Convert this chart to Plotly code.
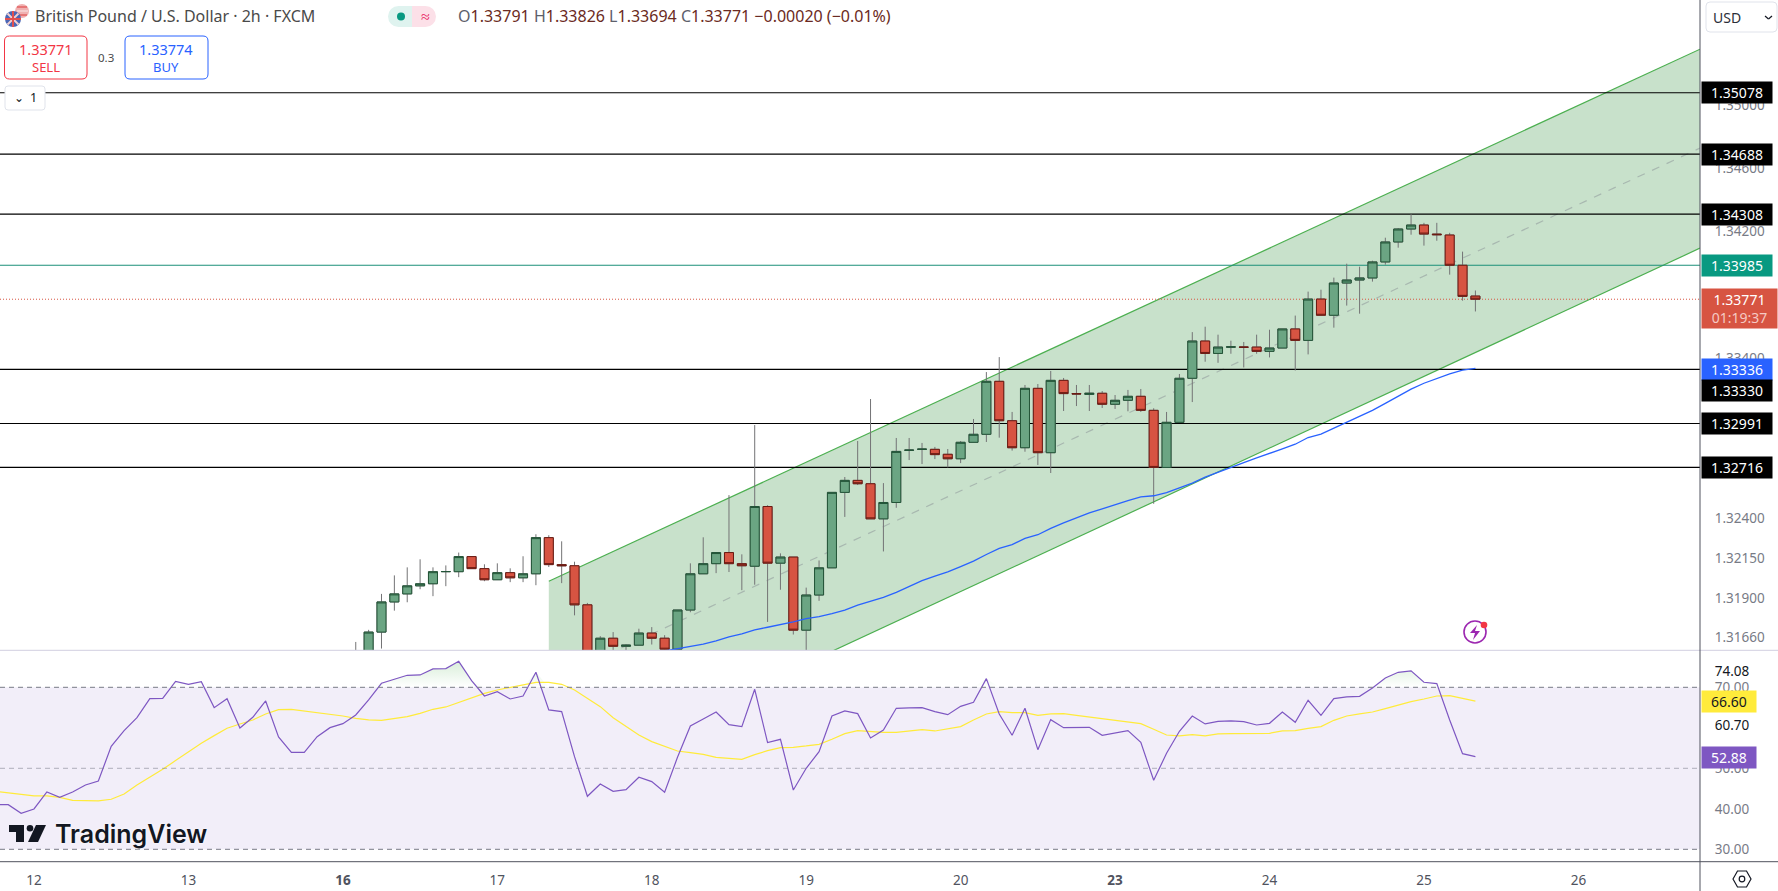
import plotly.graph_objects as go

W, H = 1778, 891
AXIS_X = 1700

# candles, 2h bars, index 0 = session open of the 12th
candle_index = list(range(25, 113))
opens = [1.31500,1.31491,1.31691,1.31878,1.31928,1.31978,1.31991,1.32066,1.32066,1.32160,
    1.32085,1.32016,1.32060,1.32028,1.32053,1.32278,1.32110,1.32103,1.31860,1.31522,
    1.31653,1.31603,1.31610,1.31685,1.31653,1.31585,1.31828,1.32053,1.32116,1.32185,
    1.32116,1.32100,1.32472,1.32119,1.32157,1.31703,1.31921,1.32090,1.32560,1.32635,
    1.32614,1.32395,1.32497,1.32823,1.32829,1.32829,1.32798,1.32770,1.32873,1.32923,
    1.33255,1.33008,1.32839,1.33211,1.32808,1.33261,1.33178,1.33173,1.33180,1.33111,
    1.33136,1.33161,1.33073,1.32716,1.32998,1.33274,1.33508,1.33430,1.33470,1.33470,
    1.33470,1.33443,1.33464,1.33584,1.33512,1.33772,1.33670,1.33873,1.33892,1.33905,
    1.34006,1.34132,1.34214,1.34239,1.34182,1.34176,1.33985,1.33791]
closes = [1.31550,1.31691,1.31878,1.31928,1.31978,1.31991,1.32066,1.32067,1.32160,1.32085,
    1.32016,1.32060,1.32028,1.32053,1.32278,1.32110,1.32103,1.31860,1.31522,1.31653,
    1.31603,1.31610,1.31685,1.31653,1.31585,1.31828,1.32053,1.32116,1.32185,1.32116,
    1.32103,1.32472,1.32119,1.32157,1.31703,1.31921,1.32090,1.32560,1.32635,1.32614,
    1.32395,1.32497,1.32816,1.32824,1.32830,1.32796,1.32770,1.32873,1.32923,1.33255,
    1.33008,1.32839,1.33211,1.32808,1.33261,1.33178,1.33176,1.33180,1.33111,1.33136,
    1.33161,1.33073,1.32716,1.32998,1.33274,1.33508,1.33430,1.33470,1.33471,1.33469,
    1.33443,1.33464,1.33584,1.33512,1.33772,1.33670,1.33873,1.33892,1.33905,1.34006,
    1.34132,1.34214,1.34239,1.34182,1.34178,1.33985,1.33789,1.33771]
highs = [1.31630,1.31705,1.31928,1.32043,1.32093,1.32143,1.32093,1.32105,1.32185,1.32160,
    1.32112,1.32118,1.32087,1.32162,1.32299,1.32293,1.32255,1.32128,1.31872,1.31666,
    1.31691,1.31616,1.31712,1.31722,1.31672,1.31828,1.32118,1.32280,1.32185,1.32543,
    1.32174,1.32981,1.32480,1.32180,1.32157,1.31967,1.32136,1.32560,1.32656,1.32881,
    1.33144,1.32618,1.32900,1.32900,1.32869,1.32844,1.32831,1.32881,1.33019,1.33313,
    1.33407,1.33063,1.33232,1.33238,1.33320,1.33276,1.33232,1.33232,1.33194,1.33169,
    1.33201,1.33207,1.33086,1.33063,1.33301,1.33564,1.33598,1.33548,1.33510,1.33502,
    1.33548,1.33579,1.33584,1.33668,1.33819,1.33831,1.33907,1.33995,1.33976,1.34014,
    1.34159,1.34220,1.34308,1.34253,1.34253,1.34190,1.34071,1.33826]
lows = [1.31450,1.31470,1.31589,1.31824,1.31876,1.31957,1.31914,1.31976,1.32032,1.32085,
    1.32007,1.32016,1.32001,1.32001,1.31982,1.32095,1.31995,1.31795,1.31491,1.31501,
    1.31564,1.31553,1.31610,1.31614,1.31578,1.31585,1.31814,1.32053,1.32057,1.32064,
    1.31951,1.31985,1.31754,1.31954,1.31676,1.31541,1.31885,1.32090,1.32407,1.32606,
    1.32395,1.32192,1.32464,1.32762,1.32737,1.32768,1.32716,1.32743,1.32873,1.32875,
    1.32902,1.32821,1.32814,1.32731,1.32681,1.33069,1.33100,1.33069,1.33088,1.33082,
    1.33067,1.33063,1.32489,1.32716,1.32998,1.33125,1.33378,1.33371,1.33428,1.33342,
    1.33428,1.33405,1.33464,1.33323,1.33424,1.33670,1.33592,1.33731,1.33680,1.33882,
    1.33989,1.34096,1.34178,1.34109,1.34140,1.33926,1.33762,1.33694]

# moving average on price
ma_index = list(range(48, 113))
ma_values = [1.31560,1.31574,1.31587,1.31599,1.31616,1.31637,1.31662,1.31680,1.31705,1.31721,
    1.31737,1.31755,1.31774,1.31787,1.31805,1.31827,1.31858,1.31881,1.31906,1.31937,
    1.31975,1.32010,1.32038,1.32065,1.32098,1.32132,1.32173,1.32211,1.32234,1.32273,
    1.32296,1.32336,1.32370,1.32401,1.32432,1.32457,1.32484,1.32509,1.32532,1.32539,
    1.32558,1.32587,1.32618,1.32655,1.32687,1.32716,1.32746,1.32775,1.32802,1.32832,
    1.32861,1.32903,1.32924,1.32962,1.33000,1.33033,1.33073,1.33117,1.33164,1.33206,
    1.33243,1.33275,1.33302,1.33325,1.33336]

# levels and channel
black_levels = [1.35078, 1.34688, 1.34308, 1.33330, 1.32991, 1.32716]
green_level = 1.33985
last_price = 1.33771
channel_x = [40, 129.45]
channel_upper = [1.32007, 1.35355]
channel_mid = [1.31384, 1.34726]
channel_lower = [1.30760, 1.34093]

# RSI pane
rsi_index = list(range(-3, 113))
rsi_values = [41.03,41.03,38.89,39.96,44.16,42.84,44.16,45.89,46.88,55.43,
    59.30,62.51,67.20,67.29,71.48,70.74,71.40,64.98,67.20,59.96,
    62.60,66.63,57.74,53.95,53.95,57.82,60.04,61.03,63.17,66.88,
    70.99,71.98,72.97,73.05,74.53,74.61,76.42,71.65,67.86,68.93,
    67.12,67.86,73.71,64.41,63.99,52.88,43.09,46.13,44.32,44.74,
    47.78,46.71,44.08,52.72,60.46,62.18,63.91,60.78,60.29,69.51,
    56.34,57.16,44.65,50.00,54.12,62.92,64.16,63.50,57.49,59.47,
    64.82,64.90,64.98,63.99,63.25,65.31,66.30,72.14,63.42,58.15,
    64.82,54.61,62.02,60.04,60.04,60.13,58.15,58.64,59.30,56.42,
    47.04,53.71,59.14,62.92,60.95,61.61,61.69,61.53,60.70,61.11,
    63.91,61.36,66.79,63.09,67.20,67.62,67.78,69.84,72.31,73.71,
    74.08,71.24,70.91,61.94,53.62,52.88]
rsi_ma_values = [44.32,43.99,43.58,43.17,43.17,42.84,42.10,41.94,41.94,42.35,
    43.67,45.89,47.78,49.76,51.90,54.12,56.18,58.07,59.88,60.95,
    61.94,63.42,64.49,64.57,64.16,63.83,63.42,62.92,62.35,61.94,
    61.85,62.27,62.76,63.58,64.57,65.15,66.22,67.29,68.52,69.34,
    69.92,70.58,71.24,71.24,70.74,69.34,67.29,65.23,62.51,60.46,
    58.23,56.59,55.35,54.28,53.87,53.46,52.72,52.39,52.22,53.38,
    54.36,55.11,55.19,55.52,55.93,57.16,58.56,59.30,59.06,58.89,
    58.89,59.22,59.55,59.22,59.71,60.29,61.94,63.42,63.99,63.75,
    63.75,63.09,63.42,63.50,63.09,62.68,62.27,61.94,61.61,61.03,
    59.63,58.23,57.99,58.32,57.99,58.48,58.56,58.56,58.64,58.64,
    59.22,59.30,59.88,60.29,61.85,62.92,63.42,63.91,64.74,65.64,
    66.46,67.12,67.86,67.95,67.20,66.60]

# axis labels
price_ticks = [1.350, 1.346, 1.342, 1.334, 1.324, 1.3215, 1.319, 1.3166]
rsi_ticks = [74.08, 70, 60.70, 50, 40, 30]
day_ticks = [0, 12, 24, 36, 48, 60, 72, 84, 96, 108, 120]
day_labels = ["12", "13", "<b>16</b>", "17", "18", "19", "20", "<b>23</b>", "24", "25", "26"]

FONT = "Noto Sans"
UP_FILL, UP_LINE = "#6ba583", "#225437"
DN_FILL, DN_LINE = "#d75442", "#6b1a12"
WICK = "#737375"
XR = [-2.642, 129.45]
PRICE_RANGE = [0.119190, 0.132480]


def px(x):
    return x / W


def py(y):
    return 1 - y / H


def box_path(x0, y0, x1, y1, r=4):
    # rounded rectangle in pixel terms, returned in paper units
    a, b = r / W, r / H
    l, t, rr, bt = px(x0), py(y0), px(x1), py(y1)
    return (f"M{l+a},{t} L{rr-a},{t} Q{rr},{t} {rr},{t-b} L{rr},{bt+b} Q{rr},{bt} {rr-a},{bt} "
            f"L{l+a},{bt} Q{l},{bt} {l},{bt+b} L{l},{t-b} Q{l},{t} {l+a},{t} Z")


def poly_path(points):
    return "M" + " L".join(f"{px(x)},{py(y)}" for x, y in points) + " Z"


def rbox(x0, y0, x1, y1, fill, line, r=4, width=1):
    return dict(type="path", path=box_path(x0, y0, x1, y1, r), xref="paper", yref="paper",
                fillcolor=fill, line=dict(color=line, width=width), layer="above")


def poly(points, fill, line="rgba(0,0,0,0)", width=0):
    return dict(type="path", path=poly_path(points), xref="paper", yref="paper",
                fillcolor=fill, line=dict(color=line, width=width), layer="above")


def circle(cx, cy, r, fill, line="rgba(0,0,0,0)", width=0):
    return dict(type="circle", xref="paper", yref="paper", x0=px(cx - r), x1=px(cx + r),
                y0=py(cy + r), y1=py(cy - r), fillcolor=fill, line=dict(color=line, width=width), layer="above")


def seg(x0, y0, x1, y1, color, width=1):
    return dict(type="line", xref="paper", yref="paper", x0=px(x0), x1=px(x1), y0=py(y0), y1=py(y1),
                line=dict(color=color, width=width), layer="above")


def label(x, y, text, size=13, color="#131722", anchor="left"):
    return dict(x=px(x), y=py(y), xref="paper", yref="paper", text=text, showarrow=False,
                xanchor=anchor, yanchor="middle", align=anchor,
                font=dict(family=FONT, size=size, color=color))


def badge(y, text, bg, fg="white", w=70, h=21, x0=1701, size=14):
    return dict(x=px(x0), y=py(y), xref="paper", yref="paper", text=text, showarrow=False,
                xanchor="left", yanchor="middle", align="center", width=w, height=h,
                bgcolor=bg, borderpad=0, font=dict(family=FONT, size=size, color=fg))


fig = go.Figure()

# channel
fig.add_trace(go.Scatter(x=channel_x, y=channel_lower, mode="lines", line=dict(color="#4caf50", width=1.2)))
fig.add_trace(go.Scatter(x=channel_x, y=channel_upper, mode="lines", line=dict(color="#4caf50", width=1.2),
                         fill="tonexty", fillcolor="rgba(67,150,75,0.29)"))
fig.add_trace(go.Scatter(x=channel_x, y=channel_mid, mode="lines",
                         line=dict(color="rgba(120,123,134,0.4)", width=1.2, dash="8px 8px")))

# horizontal levels
for lvl in black_levels:
    fig.add_trace(go.Scatter(x=XR, y=[lvl, lvl], mode="lines", line=dict(color="#000000", width=1.1)))
fig.add_trace(go.Scatter(x=XR, y=[green_level, green_level], mode="lines", line=dict(color="#1b8f79", width=1.1)))
fig.add_trace(go.Scatter(x=XR, y=[last_price, last_price], mode="lines",
                         line=dict(color="#d75442", width=1, dash="1px 2px")))

# candles sit on an overlaying axis so they stay above the channel fill
# wicks first, grey, then the bodies on top of them
fig.add_trace(go.Candlestick(x=candle_index, open=opens, high=highs, low=lows, close=closes, whiskerwidth=0, yaxis="y3",
                             increasing=dict(line=dict(color=WICK, width=1), fillcolor="rgba(0,0,0,0)"),
                             decreasing=dict(line=dict(color=WICK, width=1), fillcolor="rgba(0,0,0,0)")))
fig.add_trace(go.Candlestick(x=candle_index, open=opens, close=closes, yaxis="y3",
                             high=[max(o, c) for o, c in zip(opens, closes)],
                             low=[min(o, c) for o, c in zip(opens, closes)], whiskerwidth=0,
                             increasing=dict(line=dict(color=UP_LINE, width=1), fillcolor=UP_FILL),
                             decreasing=dict(line=dict(color=DN_LINE, width=1), fillcolor=DN_FILL)))

# moving average
fig.add_trace(go.Scatter(x=ma_index, y=ma_values, mode="lines", line=dict(color="#2962ff", width=1.3), yaxis="y3"))

# RSI
fig.add_trace(go.Scatter(x=rsi_index, y=[70] * len(rsi_index), mode="lines", line=dict(width=0), yaxis="y2"))
fig.add_trace(go.Scatter(x=rsi_index, y=[max(v, 70) for v in rsi_values], mode="lines", line=dict(width=0),
                         fill="tonexty", yaxis="y2",
                         fillgradient=dict(type="vertical", start=70, stop=76,
                                           colorscale=[[0, "rgba(76,175,80,0)"], [1, "rgba(76,175,80,0.2)"]])))
fig.add_trace(go.Scatter(x=rsi_index, y=rsi_ma_values, mode="lines", line=dict(color="#ffeb3b", width=1.2), yaxis="y2"))
fig.add_trace(go.Scatter(x=rsi_index, y=rsi_values, mode="lines", line=dict(color="#7e57c2", width=1.2), yaxis="y2"))

shapes = [
    dict(type="rect", xref="x", yref="y2", x0=XR[0], x1=XR[1], y0=30, y1=70,
         fillcolor="rgba(126,87,194,0.1)", line=dict(width=0), layer="below"),
    dict(type="line", xref="x", yref="y2", x0=XR[0], x1=XR[1], y0=70, y1=70, line=dict(color="#787b86", width=1, dash="5px 4px")),
    dict(type="line", xref="x", yref="y2", x0=XR[0], x1=XR[1], y0=50, y1=50, line=dict(color="rgba(120,123,134,0.55)", width=1, dash="5px 4px")),
    dict(type="line", xref="x", yref="y2", x0=XR[0], x1=XR[1], y0=30, y1=30, line=dict(color="#787b86", width=1, dash="5px 4px")),
    seg(0, 650.3, W, 650.3, "#d1cfe0", 1),
    seg(0, 861.7, W, 861.7, "#50535e", 1),
    seg(AXIS_X, 0, AXIS_X, H, "#50535e", 1),
    # flags
    circle(22, 11, 7, "#f0b0b0"),
    seg(17, 7, 27, 7, "#e05050", 1.2),
    seg(17, 11, 28, 11, "#f8e0e0", 1.2),
    seg(17, 15, 27, 15, "#e05050", 1.2),
    circle(13, 19, 8, "#4a66b5"),
    seg(7.5, 13.5, 18.5, 24.5, "#f4d0d0", 2),
    seg(18.5, 13.5, 7.5, 24.5, "#f4d0d0", 2),
    seg(13, 11, 13, 27, "#e05050", 2),
    seg(5, 19, 21, 19, "#e05050", 2),
    rbox(4.5, 36, 87, 79, "white", "#f23645", 5),
    rbox(125, 36, 208, 79, "white", "#2962ff", 5),
    rbox(5, 86, 45, 110, "white", "#e0e3eb", 3),
    circle(398.5, 16.5, 10.5, "#dff3ef"),
    poly([(398.5, 6), (412, 6), (412, 27), (398.5, 27)], "#dff3ef"),
    circle(425.5, 16.5, 10.5, "#fce0e8"),
    poly([(412, 6), (425.5, 6), (425.5, 27), (412, 27)], "#fce0e8"),
    circle(401, 16.5, 4, "#089981"),
    # currency box
    rbox(1706, 2, 1777, 32, "white", "#e0e3eb", 4),
    seg(1765, 16, 1768.5, 19, "#131722", 1.2),
    seg(1768.5, 19, 1772, 16, "#131722", 1.2),
    # settings glyph
    poly([(1733, 879), (1737.5, 871), (1746.5, 871), (1751, 879), (1746.5, 887), (1737.5, 887)], "white", "#131722", 1.2),
    circle(1742, 879, 2.8, "white", "#131722", 1.2),
    # charge icon
    circle(1475, 632, 11, "white", "#9c27b0", 1.6),
    poly([(1477, 625), (1470, 633), (1475, 633), (1473, 640), (1480, 631), (1475, 631)], "#9c27b0"),
    circle(1484, 625, 3.3, "#f23645"),
    # logo mark
    poly([(9, 825), (24, 825), (24, 842), (16, 842), (16, 832), (9, 832)], "#131722"),
    circle(30, 828.3, 3.3, "#131722"),
    poly([(36, 825), (46, 825), (38, 842), (28, 842)], "#131722"),
]

annots = [
    label(33, 16, "British Pound / U.S. Dollar · 2h · FXCM", size=16, color="#4a4a4a"),
    label(425, 16.5, "≈", size=16, color="#e91e63", anchor="center"),
    label(456, 16, "<span style='color:#5d606b'>O</span>1.33791 <span style='color:#5d606b'>H</span>1.33826 "
                   "<span style='color:#5d606b'>L</span>1.33694 <span style='color:#5d606b'>C</span>1.33771 "
                   "−0.00020 (−0.01%)", size=16, color="#6b2a22"),
    label(46, 49, "1.33771", size=14.5, color="#f23645", anchor="center"),
    label(46, 67, "SELL", size=13, color="#f23645", anchor="center"),
    label(106, 57, "0.3", size=11.5, color="#4a4a4a", anchor="center"),
    label(166, 49, "1.33774", size=14.5, color="#2962ff", anchor="center"),
    label(166, 67, "BUY", size=13, color="#2962ff", anchor="center"),
    label(33, 98, "1", size=12.5, color="#131722", anchor="center"),
    label(19, 98, "⌄", size=12, color="#131722", anchor="center"),
    label(1711, 17, "USD", size=14, color="#2a2e39"),
    badge(92.3, "1.35078", "#000000"),
    badge(154.3, "1.34688", "#000000"),
    badge(214.3, "1.34308", "#000000"),
    badge(265.3, "1.33985", "#089981"),
    badge(308, "1.33771<br><span style='color:#f5c9c3'>01:19:37</span>", "#d75442", w=75, h=39),
    badge(369, "1.33336", "#2962ff"),
    badge(390, "1.33330", "#000000"),
    badge(423.3, "1.32991", "#000000"),
    badge(467.3, "1.32716", "#000000"),
    badge(701, "66.60", "#ffeb3b", fg="#131722", w=54),
    badge(757.5, "52.88", "#7e57c2", w=54),
    dict(x=px(52.5), y=py(834), xref="paper", yref="paper", text="TradingView", showarrow=False,
         xanchor="left", yanchor="middle",
         font=dict(family="Inter", size=25, color="#131722", weight=600, shadow="white 0px 0px 3px")),
]

fig.update_layout(
    width=W, height=H, margin=dict(l=0, r=0, t=0, b=0), autosize=False,
    paper_bgcolor="white", plot_bgcolor="white", showlegend=False, hovermode=False,
    boxmode="overlay", boxgap=0.3, boxgroupgap=0,
    shapes=shapes, annotations=annots,
    xaxis=dict(domain=[0, AXIS_X / W], range=XR, anchor="y2", rangeslider=dict(visible=False), showgrid=False,
               zeroline=False, showline=False, tickmode="array", tickvals=day_ticks, ticktext=day_labels,
               ticks="outside", ticklen=6, tickcolor="rgba(0,0,0,0)", tickangle=0,
               tickfont=dict(family=FONT, size=13.5, color="#50535e")),
    yaxis=dict(domain=[py(650), 1], type="log", range=PRICE_RANGE, side="right", anchor="x", showgrid=False,
               zeroline=False, showline=False, tickmode="array", tickvals=price_ticks,
               ticktext=[f"{v:.5f}" for v in price_ticks],
               ticks="outside", ticklen=11, tickcolor="rgba(0,0,0,0)",
               tickfont=dict(family=FONT, size=13.5, color="#787b86")),
    yaxis2=dict(domain=[py(861.7), py(650.5)], range=[26.94, 79.09], side="right", anchor="x", showgrid=False,
                zeroline=False, showline=False, tickmode="array", tickvals=rsi_ticks,
                ticktext=["<span style='color:#131722'>74.08</span>", "70.00",
                          "<span style='color:#131722'>60.70</span>", "50.00", "40.00", "30.00"],
                ticks="outside", ticklen=11, tickcolor="rgba(0,0,0,0)",
                tickfont=dict(family=FONT, size=13.5, color="#787b86")),
    yaxis3=dict(overlaying="y", anchor="x", type="log", range=PRICE_RANGE, side="right", showgrid=False,
                zeroline=False, showline=False, showticklabels=False, ticks=""),
)

fig.write_html("out.html", config={"displayModeBar": False},
               post_script="document.body.style.margin='0';document.body.style.overflow='hidden';")
